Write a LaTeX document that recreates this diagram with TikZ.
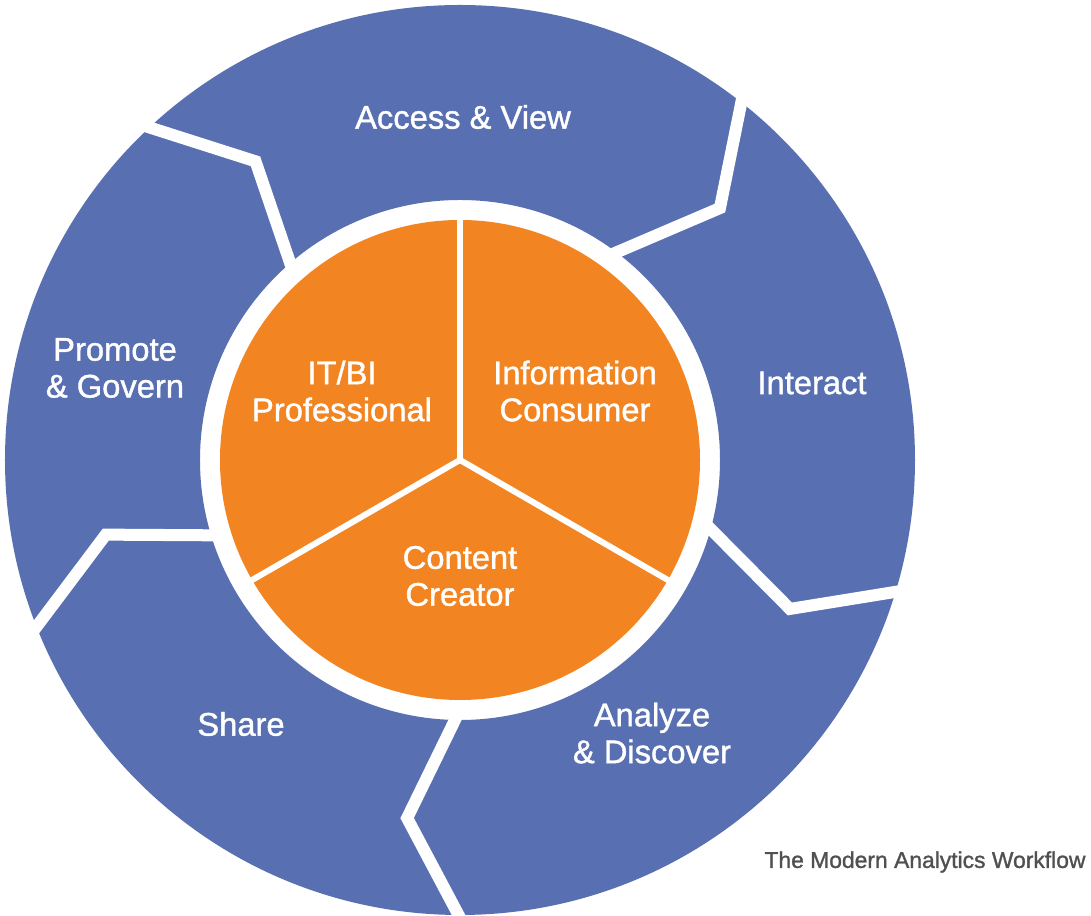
\documentclass[tikz,border=0pt]{standalone}
\usepackage{fontspec}
\setmainfont{Liberation Sans}
\newfontfamily\labelfont[FakeBold=1.2]{Liberation Sans}
\definecolor{ringblue}{RGB}{88,111,178}
\definecolor{coreorange}{RGB}{242,133,33}
\definecolor{captiongray}{RGB}{80,80,80}
\begin{document}
\begin{tikzpicture}[x=0.01cm, y=0.01cm,
        stagelabel/.style={text=white, align=center, font=\labelfont\fontsize{9.3}{10.5}\selectfont},
        gapline/.style={white, line width=0.12cm, line join=miter},
        splitline/.style={white, line width=0.06cm}]
        % page with the margins of the reference
        \fill[white] (-460,-456) rectangle (631,460);
        \useasboundingbox (-460,-456) rectangle (631,460);
        % blue ring, cut into five arrows
        \fill[ringblue, even odd rule] (0,0) circle (455) (0,0) circle (260);
        \foreach \o/\c/\i in {53.3/44.1/54.6, 134.7/124.4/131.9, 203.3/191.9/197.7,
                              271.4/261.6/270.2, 344.6/335.7/346.2}
            \draw[gapline] (\o:480) -- (\c:362) -- (\i:248);
        % orange core with three parts
        \fill[coreorange] (0,0) circle (240);
        \foreach \a in {90,210,330}
            \draw[splitline] (0,0) -- (\a:245);
        % stages
        \node[stagelabel] (access) at (3,343) {Access \& View};
        \node[stagelabel] (interact) at (352,77) {Interact};
        \node[stagelabel] (analyze) at (192,-273) {Analyze\\\& Discover};
        \node[stagelabel] (share) at (-219,-264) {Share};
        \node[stagelabel] (promote) at (-345,92) {Promote\\\& Govern};
        % roles
        \node[stagelabel] (itbi) at (-118,69) {IT/BI\\Professional};
        \node[stagelabel] (consumer) at (115,69) {Information\\Consumer};
        \node[stagelabel] (creator) at (0,-116) {Content\\Creator};
        \node[text=captiongray, font=\labelfont\fontsize{6.5}{7.5}\selectfont] (caption) at (465,-402) {The Modern Analytics Workflow};
    \end{tikzpicture}
\end{document}
